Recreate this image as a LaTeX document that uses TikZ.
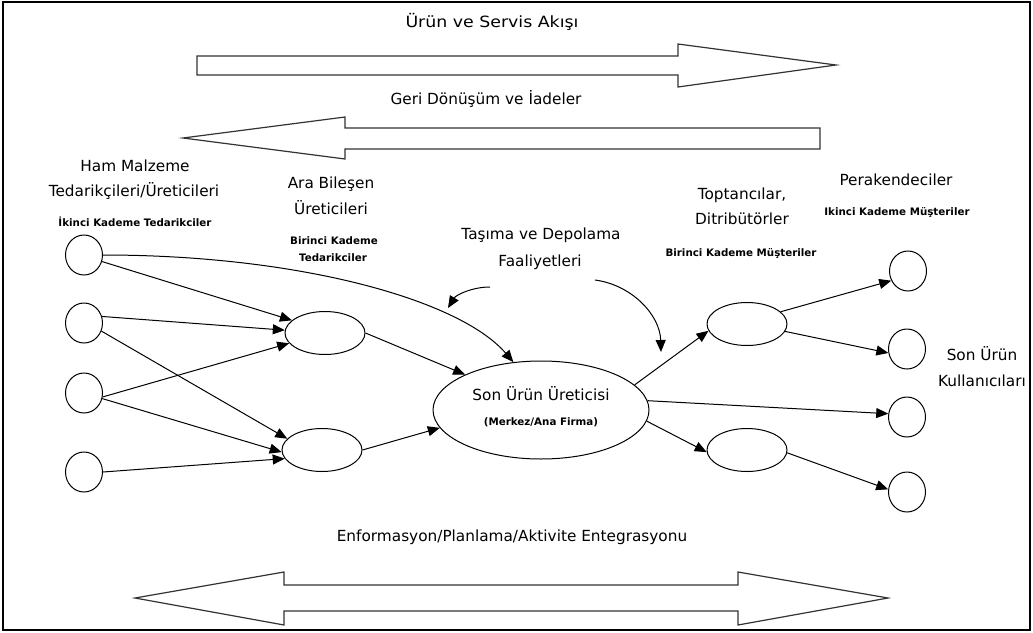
\documentclass[tikz,border=0pt]{standalone}
\usepackage{fontspec}
\setmainfont{DejaVu Sans}
\newfontfamily\widef[FakeStretch=1.12]{DejaVu Sans}
\usetikzlibrary{arrows.meta,shapes.geometric}
\begin{document}
\begin{tikzpicture}[x=1pt,y=-1pt,
 lbl/.style={font=\fontsize{15.3}{18}\selectfont, inner sep=0, anchor=base},
 ttl/.style={font=\widef\fontsize{15.5}{18}\selectfont, inner sep=0, anchor=base},
 sml/.style={font=\bfseries\fontsize{10.3}{12}\selectfont, inner sep=0, anchor=base},
 circ/.style={draw, ellipse, minimum width=37, minimum height=40, inner sep=0, line width=1},
 oval/.style={draw, ellipse, minimum width=80, minimum height=43, inner sep=0, line width=1},
 con/.style={-{Triangle[length=12,width=10]}, line width=1},
 blk/.style={draw=black!80, line width=1.2, fill=white}]
\useasboundingbox (0,0) rectangle (1033,632);
\draw[line width=1.5] (3,2) rectangle (1030,630);

% titles and block arrows
\node[ttl] (t1) at (492,27.5) {Ürün ve Servis Akışı};
\draw[blk] (197,56) -- (678,56) -- (678,44) -- (836,65) -- (678,87) -- (678,75) -- (197,75) -- cycle;
\node[lbl] (t2) at (486,104) {Geri Dönüşüm ve İadeler};
\draw[blk] (820,128) -- (345,128) -- (345,117) -- (183,138) -- (345,159) -- (345,149) -- (820,149) -- cycle;
\node[lbl] (t3) at (512,541) {Enformasyon/Planlama/Aktivite Entegrasyonu};
\draw[blk] (135,598) -- (284,572) -- (284,585) -- (738,585) -- (738,572) -- (888,598) -- (738,625) -- (738,611) -- (284,611) -- (284,625) -- cycle;

% column labels
\node[lbl] (h1) at (135,171.5) {Ham Malzeme};
\node[lbl] (h2) at (134,196) {Tedarikçileri/Üreticileri};
\node[sml] (h3) at (135,226) {İkinci Kademe Tedarikciler};
\node[lbl] (a1) at (331,188) {Ara Bileşen};
\node[lbl] (a2) at (331,214) {Üreticileri};
\node[sml] (a3) at (334,244) {Birinci Kademe};
\node[sml] (a4) at (333,261) {Tedarikciler};
\node[lbl] (d1) at (541,239) {Taşıma ve Depolama};
\node[lbl] (d2) at (540,266) {Faaliyetleri};
\node[lbl] (w1) at (742,199) {Toptancılar,};
\node[lbl] (w2) at (742,224) {Ditribütörler};
\node[sml] (w3) at (741,256) {Birinci Kademe Müşteriler};
\node[lbl] (p1) at (896,185) {Perakendeciler};
\node[sml] (p2) at (897,215) {Ikinci Kademe Müşteriler};
\node[lbl] (s1) at (982,360) {Son Ürün};
\node[lbl] (s2) at (982,386) {Kullanıcıları};

% nodes
\node[circ] (c1) at (84,255) {};
\node[circ] (c2) at (84,323) {};
\node[circ] (c3) at (84,393) {};
\node[circ] (c4) at (84,472) {};
\node[oval] (e1) at (325,333) {};
\node[oval] (e2) at (322,450) {};
\node[draw, ellipse, line width=1, minimum width=216, minimum height=98, inner sep=0] (m) at (541,410) {};
\node[lbl] (m1) at (541,400) {Son Ürün Üreticisi};
\node[sml] (m2) at (541,425) {(Merkez/Ana Firma)};
\node[oval] (r1) at (747,324) {};
\node[oval] (r2) at (747,450) {};
\node[circ] (k1) at (908,271) {};
\node[circ] (k2) at (907,349) {};
\node[circ] (k3) at (907,417) {};
\node[circ] (k4) at (907,492) {};

% connectors left
\draw[con] (c1.east) .. controls (300,255) and (460,300) .. (m.120);
\draw[con] (c1.-20) -- (e1.159);
\draw[con] (c2.20) -- (e1.176);
\draw[con] (c2.-25) -- (e2.162);
\draw[con] (c3.-12) -- (e1.196);
\draw[con] (c3.-17) -- (e2.183);
\draw[con] (c4.east) -- (e2.193);
\draw[con] (e1.east) -- (m.155);
\draw[con] (e2.east) -- (m.190);
% transport arrows
\coordinate (q1) at (490,287);
\coordinate (q2) at (448,308);
\coordinate (q3) at (595,280);
\coordinate (q4) at (661,352);
\draw[con] (q1) .. controls (472,287) and (456,295) .. (q2);
\draw[con] (q3) .. controls (632,285) and (660,315) .. (q4);
% connectors right
\draw[con] (m.15) -- (r1.190);
\draw[con] (m.5) -- (k3.170);
\draw[con] (m.-6) -- (r2.183);
\draw[con] (r1.20) -- (k1.210);
\draw[con] (r1.-11) -- (k2.192);
\draw[con] (r2.-4) -- (k4.172);
\end{tikzpicture}
\end{document}
